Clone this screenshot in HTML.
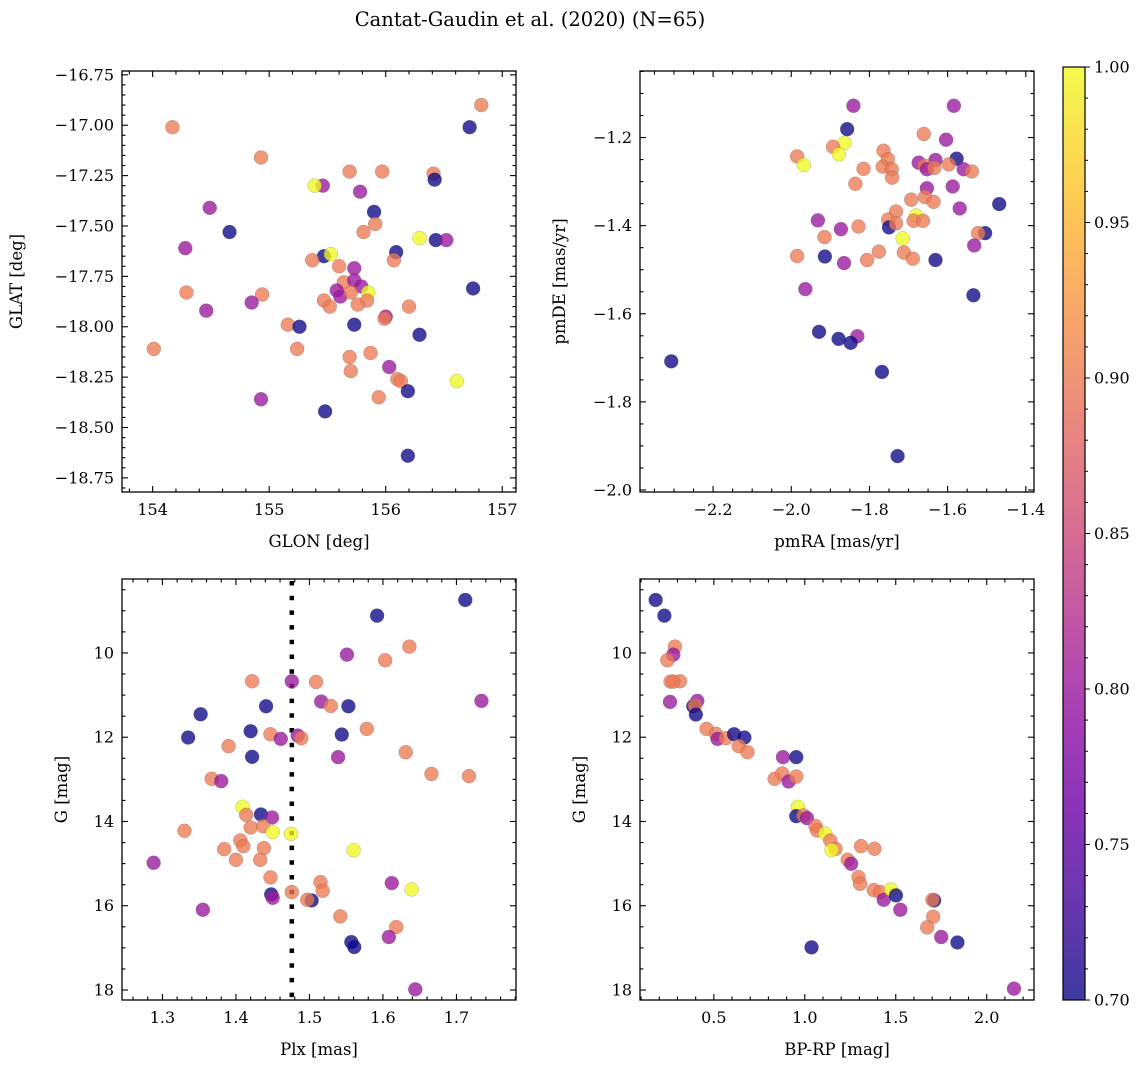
<!DOCTYPE html>
<html><head><meta charset="utf-8"><title>Cantat-Gaudin et al. (2020)</title>
<style>
html,body{margin:0;padding:0;background:#fff;}
svg{display:block;font-family:"DejaVu Serif","Liberation Serif",serif;}
</style></head>
<body>
<svg id="fig" width="1148" height="1067" viewBox="0 0 1148 1067" xmlns="http://www.w3.org/2000/svg">
<defs>
<linearGradient id="plasmaGrad" x1="0" y1="1" x2="0" y2="0">
<stop offset="0" stop-color="#0d0887"/><stop offset="0.1" stop-color="#41049d"/><stop offset="0.2" stop-color="#6a00a8"/><stop offset="0.3" stop-color="#8f0da4"/><stop offset="0.4" stop-color="#b12a90"/><stop offset="0.5" stop-color="#cc4778"/><stop offset="0.6" stop-color="#e16462"/><stop offset="0.7" stop-color="#f2844b"/><stop offset="0.8" stop-color="#fca636"/><stop offset="0.9" stop-color="#fcce25"/><stop offset="1" stop-color="#f0f921"/>
</linearGradient>
</defs>
<text x="530" y="26" text-anchor="middle" font-size="19.5">Cantat-Gaudin et al. (2020) (N=65)</text>
</svg>
<script>
// ---- Panel 1: GLON vs GLAT ----
const p1Glon=[156.82,154.17,156.72,154.93,155.69,155.97,156.41,156.42,155.46,155.39,155.78,154.49,155.90,155.91,155.81,154.66,156.29,156.43,156.52,154.28,156.09,155.47,155.53,155.37,156.07,155.60,155.73,155.64,155.73,155.79,155.58,155.61,155.70,155.85,155.84,155.47,155.52,155.76,154.29,154.94,154.85,156.75,154.46,156.20,156.00,155.99,155.16,155.26,155.73,156.29,154.01,155.24,155.69,155.87,156.03,155.70,156.10,156.13,156.61,156.19,154.93,155.94,155.48,156.19];
const p1Glat=[-16.90,-17.01,-17.01,-17.16,-17.23,-17.23,-17.24,-17.27,-17.30,-17.30,-17.33,-17.41,-17.43,-17.49,-17.53,-17.53,-17.56,-17.57,-17.57,-17.61,-17.63,-17.65,-17.64,-17.67,-17.67,-17.70,-17.71,-17.78,-17.77,-17.80,-17.82,-17.85,-17.83,-17.83,-17.87,-17.87,-17.90,-17.89,-17.83,-17.84,-17.88,-17.81,-17.92,-17.90,-17.95,-17.96,-17.99,-18.00,-17.99,-18.04,-18.11,-18.11,-18.15,-18.13,-18.20,-18.22,-18.26,-18.27,-18.27,-18.32,-18.36,-18.35,-18.42,-18.64];
const p1Prob=[0.9,0.9,0.7,0.9,0.9,0.9,0.9,0.7,0.8,1.0,0.8,0.8,0.7,0.9,0.9,0.7,1.0,0.7,0.8,0.8,0.7,0.7,1.0,0.9,0.9,0.9,0.8,0.9,0.8,0.8,0.8,0.8,0.9,1.0,0.9,0.9,0.9,0.9,0.9,0.9,0.8,0.7,0.8,0.9,0.8,0.9,0.9,0.7,0.7,0.7,0.9,0.9,0.9,0.9,0.8,0.9,0.9,0.9,1.0,0.7,0.8,0.9,0.7,0.7];
// ---- Panel 2: pmRA vs pmDE ----
const p2PmRA=[-1.841,-1.584,-1.857,-1.661,-1.864,-1.893,-1.604,-1.764,-1.878,-1.985,-1.968,-1.753,-1.577,-1.674,-1.631,-1.659,-1.653,-1.634,-1.597,-1.766,-1.743,-1.815,-1.559,-1.538,-1.742,-1.836,-1.653,-1.587,-1.693,-1.658,-1.636,-1.468,-1.569,-1.732,-1.681,-1.752,-1.687,-1.663,-1.932,-1.750,-1.732,-1.828,-1.873,-1.504,-1.522,-1.715,-1.915,-1.532,-1.776,-1.985,-1.914,-1.712,-1.689,-1.806,-1.865,-1.631,-1.964,-1.534,-1.929,-1.831,-1.879,-1.848,-2.307,-1.768,-1.728];
const p2PmDE=[-1.128,-1.128,-1.181,-1.192,-1.212,-1.221,-1.205,-1.230,-1.238,-1.243,-1.262,-1.249,-1.248,-1.257,-1.251,-1.264,-1.272,-1.269,-1.261,-1.266,-1.272,-1.271,-1.272,-1.277,-1.291,-1.305,-1.315,-1.311,-1.341,-1.335,-1.346,-1.351,-1.361,-1.368,-1.377,-1.386,-1.389,-1.389,-1.388,-1.404,-1.395,-1.402,-1.408,-1.417,-1.417,-1.429,-1.426,-1.445,-1.459,-1.469,-1.470,-1.461,-1.475,-1.478,-1.485,-1.478,-1.544,-1.558,-1.641,-1.651,-1.657,-1.666,-1.708,-1.732,-1.923];
const p2Prob=[0.8,0.8,0.7,0.9,1.0,0.9,0.8,0.9,1.0,0.9,1.0,0.9,0.7,0.8,0.8,0.9,0.8,0.9,0.9,0.9,0.9,0.9,0.8,0.9,0.9,0.9,0.8,0.8,0.9,0.9,0.9,0.7,0.8,0.9,1.0,0.9,0.9,0.9,0.8,0.7,0.9,0.9,0.8,0.7,0.9,1.0,0.9,0.8,0.9,0.9,0.7,0.9,0.9,0.9,0.8,0.7,0.8,0.7,0.7,0.8,0.7,0.7,0.7,0.7,0.7];
// ---- Panel 3: Plx vs G ----
const p3Plx=[1.712,1.592,1.636,1.551,1.603,1.422,1.476,1.509,1.734,1.516,1.529,1.441,1.553,1.352,1.578,1.420,1.447,1.335,1.461,1.484,1.489,1.544,1.390,1.631,1.422,1.539,1.666,1.717,1.367,1.380,1.409,1.414,1.434,1.449,1.420,1.437,1.330,1.450,1.475,1.406,1.410,1.438,1.384,1.560,1.400,1.433,1.288,1.447,1.515,1.612,1.639,1.518,1.448,1.450,1.476,1.503,1.497,1.355,1.542,1.618,1.608,1.557,1.561,1.644];
const p3G=[8.743,9.115,9.850,10.040,10.174,10.672,10.672,10.688,11.138,11.154,11.257,11.265,11.265,11.455,11.802,11.858,11.929,12.008,12.040,11.960,12.024,11.937,12.213,12.356,12.466,12.474,12.870,12.925,12.988,13.043,13.652,13.842,13.834,13.905,14.142,14.111,14.221,14.253,14.292,14.451,14.585,14.632,14.656,14.680,14.909,14.909,14.980,15.328,15.439,15.462,15.613,15.644,15.731,15.810,15.676,15.874,15.858,16.095,16.253,16.506,16.743,16.862,16.980,17.984];
const p3Prob=[0.7,0.7,0.9,0.8,0.9,0.9,0.8,0.9,0.8,0.8,0.9,0.7,0.7,0.7,0.9,0.7,0.9,0.7,0.8,0.8,0.9,0.7,0.9,0.9,0.7,0.8,0.9,0.9,0.9,0.8,1.0,0.9,0.7,0.8,0.9,0.9,0.9,1.0,1.0,0.9,0.9,0.9,0.9,1.0,0.9,0.9,0.8,0.9,0.9,0.8,1.0,0.9,0.7,0.8,0.9,0.7,0.9,0.8,0.9,0.9,0.8,0.7,0.7,0.8];
const plxCut=1.476;
// ---- Panel 4: BP-RP vs G ----
const p4BpRp=[0.180,0.228,0.286,0.277,0.244,0.262,0.314,0.277,0.259,0.409,0.387,0.396,0.401,0.460,0.511,0.520,0.566,0.611,0.668,0.637,0.685,0.880,0.953,0.834,0.876,0.911,0.953,0.962,0.953,0.993,1.012,1.059,1.068,1.112,1.140,1.169,1.147,1.309,1.383,1.236,1.255,1.295,1.304,1.379,1.414,1.434,1.474,1.501,1.525,1.711,1.702,1.706,1.673,1.750,1.839,1.037,2.150];
const p4G=[8.743,9.115,9.850,10.040,10.174,10.680,10.672,10.680,11.162,11.138,11.265,11.249,11.462,11.802,11.921,12.040,12.024,11.929,12.008,12.213,12.356,12.474,12.474,12.988,12.862,13.051,12.933,13.652,13.874,13.858,13.921,14.111,14.213,14.285,14.451,14.648,14.680,14.585,14.648,14.909,15.004,15.320,15.478,15.628,15.676,15.858,15.613,15.755,16.095,15.874,15.858,16.261,16.514,16.743,16.872,16.988,17.968];
const p4Prob=[0.7,0.7,0.9,0.8,0.9,0.9,0.9,0.9,0.8,0.8,0.7,0.9,0.7,0.9,0.9,0.8,0.9,0.7,0.7,0.9,0.9,0.8,0.7,0.9,0.9,0.8,0.9,1.0,0.7,0.9,0.8,0.9,0.9,1.0,0.9,0.9,1.0,0.9,0.9,0.9,0.8,0.9,0.9,0.9,0.9,0.8,1.0,0.7,0.8,0.7,0.9,0.9,0.9,0.8,0.7,0.7,0.8];
// ---- Colorbar ----
const cbTicks=[0.70,0.75,0.80,0.85,0.90,0.95,1.00];
const cbMin=0.7, cbMax=1.0;

const NS="http://www.w3.org/2000/svg";
const svg=document.getElementById('fig');
const stops=[[13,8,135],[65,4,157],[106,0,168],[143,13,164],[177,42,144],[204,71,120],[225,100,98],[242,132,75],[252,166,54],[252,206,37],[240,249,33]];
function plasma(t){t=Math.max(0,Math.min(1,t));const f=t*10;const i=Math.min(9,Math.floor(f));const u=f-i;const a=stops[i],b=stops[i+1];
 return 'rgb('+[0,1,2].map(k=>Math.round(a[k]+(b[k]-a[k])*u)).join(',')+')';}
function mk(tag,attrs,parent){const e=document.createElementNS(NS,tag);for(const k in attrs)e.setAttribute(k,attrs[k]);(parent||svg).appendChild(e);return e;}
function fmt(v,d){const s=Math.abs(v).toFixed(d);return (v<-1e-9?'\u2212':'')+s;}

function panel(c){
 const g=mk('g',{});
 
 
 const sx=v=>c.x0+(v-c.xmin)/(c.xmax-c.xmin)*(c.x1-c.x0);
 const sy=v=>c.y0+(c.ymax-v)/(c.ymax-c.ymin)*(c.y1-c.y0);
 const clip='clip-'+c.name;
 const cp=mk('clipPath',{id:clip},g);mk('rect',{x:c.x0,y:c.y0,width:c.x1-c.x0,height:c.y1-c.y0},cp);
 const pts=mk('g',{'clip-path':'url(#'+clip+')'},g);
 
 
 if(c.vline!==undefined){
  const l=mk('line',{x1:sx(c.vline),x2:sx(c.vline),y1:c.y0+2,y2:c.y1,stroke:'#000','stroke-width':4.5,'stroke-dasharray':'4.5 10.2'},pts);
  
  
 }
 for(let i=0;i<c.xs.length;i++){
  const t=(c.cs[i]-cbMin)/(cbMax-cbMin);
  const ci=mk('circle',{cx:sx(c.xs[i]),cy:sy(c.ys[i]),r:7,fill:plasma(t),'fill-opacity':0.78,stroke:'#555','stroke-opacity':0.5,'stroke-width':0.4},pts);
  
  
 }
 const ax=mk('g',{stroke:'#000','stroke-width':1.1},g);
 for(let k=Math.ceil(c.xmin/c.xminor-1e-6);k*c.xminor<=c.xmax+1e-9;k++){
  const v=k*c.xminor;const major=Math.abs(v/c.xmajor-Math.round(v/c.xmajor))<1e-6;const L=major?6:3.5;const X=sx(v);
  mk('line',{x1:X,x2:X,y1:c.y1,y2:c.y1-L},ax);mk('line',{x1:X,x2:X,y1:c.y0,y2:c.y0+L},ax);
 }
 for(let k=Math.ceil(c.ymin/c.yminor-1e-6);k*c.yminor<=c.ymax+1e-9;k++){
  const v=k*c.yminor;const major=Math.abs(v/c.ymajor-Math.round(v/c.ymajor))<1e-6;const L=major?6:3.5;const Y=sy(v);
  mk('line',{x1:c.x0,x2:c.x0+L,y1:Y,y2:Y},ax);mk('line',{x1:c.x1,x2:c.x1-L,y1:Y,y2:Y},ax);
 }
 const fr=mk('rect',{x:c.x0,y:c.y0,width:c.x1-c.x0,height:c.y1-c.y0,fill:'none',stroke:'#000','stroke-width':1.3},g);
 
 
 c.xticks.forEach(v=>{const t=mk('text',{x:sx(v),y:c.y1+23,'text-anchor':'middle','font-size':16},g);t.textContent=fmt(v,c.xd);
  
  });
 c.yticks.forEach(v=>{const t=mk('text',{x:c.x0-8,y:sy(v)+5.5,'text-anchor':'end','font-size':16},g);t.textContent=fmt(v,c.yd);
  
  });
 const xl=mk('text',{x:(c.x0+c.x1)/2,y:c.y1+55,'text-anchor':'middle','font-size':16.5},g);xl.textContent=c.xlabel;
 
 
 const yx=c.ylx, yy=(c.y0+c.y1)/2;
 const yl=mk('text',{x:yx,y:yy,'text-anchor':'middle','font-size':16.5,transform:'rotate(-90 '+yx+' '+yy+')'},g);yl.textContent=c.ylabel;
 
 
}

panel({name:'glon-glat-panel',x0:122,x1:516,y0:71,y1:492,xmin:153.737,xmax:157.118,ymin:-18.820,ymax:-16.731,
 xmajor:1,xminor:0.2,ymajor:0.25,yminor:0.05,xticks:[154,155,156,157],yticks:[-16.75,-17,-17.25,-17.5,-17.75,-18,-18.25,-18.5,-18.75],xd:0,yd:2,
 xlabel:'GLON [deg]',ylabel:'GLAT [deg]',ylx:22,xs:p1Glon,ys:p1Glat,cs:p1Prob});
panel({name:'pm-panel',x0:640,x1:1034,y0:71,y1:492,xmin:-2.387,xmax:-1.379,ymin:-2.0045,ymax:-1.049,
 xmajor:0.2,xminor:0.05,ymajor:0.2,yminor:0.05,xticks:[-2.2,-2.0,-1.8,-1.6,-1.4],yticks:[-1.2,-1.4,-1.6,-1.8,-2.0],xd:1,yd:1,
 xlabel:'pmRA [mas/yr]',ylabel:'pmDE [mas/yr]',ylx:565,xs:p2PmRA,ys:p2PmDE,cs:p2Prob});
panel({name:'plx-g-panel',x0:122,x1:516,y0:579,y1:1000,xmin:1.245,xmax:1.781,ymin:-18.237,ymax:-8.245,
 xmajor:0.1,xminor:0.02,ymajor:2,yminor:0.5,xticks:[1.3,1.4,1.5,1.6,1.7],yticks:[],xd:1,yd:0,
 xlabel:'Plx [mas]',ylabel:'G [mag]',ylx:67,xs:p3Plx,ys:p3G.map(v=>-v),cs:p3Prob,vline:plxCut});
panel({name:'cmd-panel',x0:640,x1:1034,y0:579,y1:1000,xmin:0.094,xmax:2.260,ymin:-18.237,ymax:-8.245,
 xmajor:0.5,xminor:0.1,ymajor:2,yminor:0.5,xticks:[0.5,1.0,1.5,2.0],yticks:[],xd:1,yd:0,
 xlabel:'BP-RP [mag]',ylabel:'G [mag]',ylx:585,xs:p4BpRp,ys:p4G.map(v=>-v),cs:p4Prob});
const gTicks=[10,12,14,16,18];
[122,640].forEach(x0=>{
 gTicks.forEach(v=>{const Y=579+(v-8.245)/(18.237-8.245)*421;
  const t=mk('text',{x:x0-8,y:Y+5.5,'text-anchor':'end','font-size':16});t.textContent=String(v);
  
  });
});
const cb=mk('g',{});


const cbx0=1063,cbx1=1085,cby0=67,cby1=1000;
mk('rect',{x:cbx0,y:cby0,width:cbx1-cbx0,height:cby1-cby0,fill:'url(#plasmaGrad)','fill-opacity':0.8},cb);
mk('rect',{x:cbx0,y:cby0,width:cbx1-cbx0,height:cby1-cby0,fill:'none',stroke:'#000','stroke-width':1.2},cb);
const cy=v=>cby1-(v-cbMin)/(cbMax-cbMin)*(cby1-cby0);
for(let k=70;k<=100;k++){const v=k/100;const major=k%5===0;const Y=cy(v);
 mk('line',{x1:cbx1,x2:cbx1+(major?5:3),y1:Y,y2:Y,stroke:'#000','stroke-width':1},cb);}
cbTicks.forEach(v=>{const t=mk('text',{x:cbx1+9,y:cy(v)+5.5,'font-size':16},cb);t.textContent=v.toFixed(2);
 
 });
</script>
</body></html>
